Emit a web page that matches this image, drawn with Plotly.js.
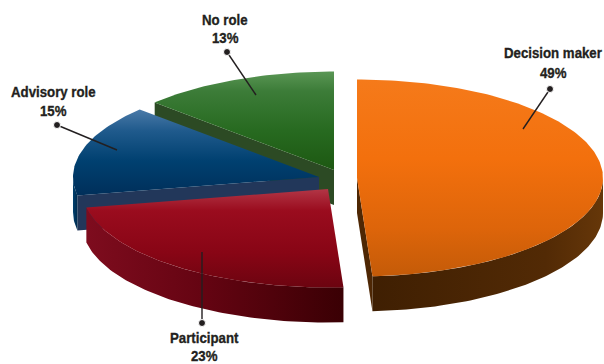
<!DOCTYPE html>
<html>
<head>
<meta charset="utf-8">
<script src="https://cdn.plot.ly/plotly-3.0.1.min.js"></script>
<style>
html,body{margin:0;padding:0;background:#fff}
#chart{width:604px;height:364px}
/* Condensed, heavy headline look for the bold labels */
.annotation-text{transform-box:fill-box;transform-origin:center;transform:scaleX(0.855);stroke:#231f20;stroke-width:0.35px}
</style>
</head>
<body>
<div id="chart"></div>
<script>
// Survey shares, in clockwise order from twelve o'clock
const categories = ['Decision maker', 'Participant', 'Advisory role', 'No role'];
const shares = [49, 23, 15, 13];

// Projection of the tilted disc, in plot units
const radiusX = 246;
const radiusY = 98.5;
const depth = 35;

// Where each exploded wedge is centred
const centreX = [357, 328, 319, 334];
const centreY = [178, 189, 177, 170];

// Colour ramps: top face (vertical), rim (horizontal), cut face
const topRamps = [
  [[0, '#f57a1a'], [0.4, '#f3700d'], [0.75, '#de650a'], [1, '#c45b08']],
  [[0, '#b23646'], [0.22, '#9a0c1e'], [0.65, '#880515'], [1, '#6c0410']],
  [[0, '#4a7aa8'], [0.25, '#1f5a8c'], [0.6, '#004070'], [1, '#002f5a']],
  [[0, '#5a9655'], [0.2, '#3c7c38'], [0.6, '#276a20'], [1, '#1d5812']]
];
const rimRamps = [
  [[0, '#3f1f02'], [0.75, '#522a05'], [1, '#663709']],
  [[0, '#7e0c1e'], [0.45, '#650412'], [1, '#3a0004']],
  [[0, '#00406f'], [1, '#002a4c']],
  [[0, '#1a4010'], [1, '#1a4010']]
];
const cutColours = ['#4e2704', '#3a0004', '#22375a', '#2c4a24'];

// Leader lines: [label-side end, end on the wedge]
const leaderX = [[550, 523], [202, 202], [57, 117], [227, 256]];
const leaderY = [[89, 129], [323, 252], [125, 150], [52, 95]];

// Label anchors: name line and percentage line
const labelX = [553, 204, 53, 225];
const nameY = [52, 337, 91, 19];
const percentY = [72, 355, 110, 37];

const rad = d => d * Math.PI / 180;
const traces = [];

function pt(i, a) {
  return [centreX[i] + radiusX * Math.sin(rad(a)), centreY[i] - radiusY * Math.cos(rad(a))];
}
function arc(i, a0, a1) {
  const out = [];
  const n = Math.max(2, Math.ceil(Math.abs(a1 - a0)));
  for (let k = 0; k <= n; k++) out.push(pt(i, a0 + (a1 - a0) * k / n));
  return out;
}
function addFill(points, extra) {
  traces.push(Object.assign({
    type: 'scatter', mode: 'lines', fill: 'toself',
    x: points.map(p => p[0]), y: points.map(p => p[1]),
    line: {width: 0}, hoverinfo: 'skip', showlegend: false
  }, extra));
}
function cutFace(i, a) {
  const c = [centreX[i], centreY[i]], r = pt(i, a);
  addFill([c, r, [r[0], r[1] + depth], [c[0], c[1] + depth]], {fillcolor: cutColours[i]});
}

// Wedge start and end angles come from the shares
let running = 0;
const wedges = shares.map(s => {
  const w = [running, running + s * 3.6];
  running += s * 3.6;
  return w;
});

// Back wedges first, so nearer ones overlap them
[3, 2, 1, 0].forEach(i => {
  const [a0, a1] = wedges[i];
  // A cut face shows only when its outward normal points toward the viewer
  if (Math.cos(rad(a0 - 90)) < -1e-6) cutFace(i, a0);
  if (Math.cos(rad(a1 + 90)) < -1e-6) cutFace(i, a1);
  // Front part of the rim lies between 90 and 270 degrees
  const r0 = Math.max(a0, 90), r1 = Math.min(a1, 270);
  if (r1 > r0) {
    const top = arc(i, r0, r1);
    const low = top.slice().reverse().map(p => [p[0], p[1] + depth]);
    const rimPts = top.concat(low);
    const xs = rimPts.map(p => p[0]);
    // The rim shades from the left end of the wedge to the right
    addFill(rimPts, {fillgradient: {type: 'horizontal', colorscale: rimRamps[i],
      start: Math.min(...xs), stop: Math.max(...xs)}});
  }
  // Top face
  const face = [[centreX[i], centreY[i]]].concat(arc(i, a0, a1));
  const ys = face.map(p => p[1]);
  addFill(face, {fillgradient: {type: 'vertical', colorscale: topRamps[i],
    start: Math.min(...ys), stop: Math.max(...ys)}});
});

// Leaders with a round dot on the label side
categories.forEach((c, i) => {
  traces.push({
    type: 'scatter', mode: 'lines+markers',
    x: leaderX[i], y: leaderY[i],
    line: {color: '#231f20', width: 1.4},
    marker: {color: '#231f20', size: [7, 0], opacity: 1},
    hoverinfo: 'skip', showlegend: false
  });
});

const labelFont = {family: '"Liberation Sans", sans-serif', size: 15.5, color: '#231f20'};
const annotations = [];
categories.forEach((c, i) => {
  annotations.push({x: labelX[i], y: nameY[i], xref: 'x', yref: 'y',
    text: '<b>' + c + '</b>', showarrow: false, font: labelFont});
  annotations.push({x: labelX[i], y: percentY[i], xref: 'x', yref: 'y',
    text: '<b>' + shares[i] + '%</b>', showarrow: false, font: labelFont});
});

Plotly.newPlot('chart', traces, {
  width: 604, height: 364,
  margin: {l: 0, r: 0, t: 0, b: 0},
  paper_bgcolor: '#fff', plot_bgcolor: '#fff',
  xaxis: {range: [0, 604], visible: false, fixedrange: true},
  yaxis: {range: [364, 0], visible: false, fixedrange: true},
  annotations: annotations,
  showlegend: false
}, {displayModeBar: false, staticPlot: true});
</script>
</body>
</html>
